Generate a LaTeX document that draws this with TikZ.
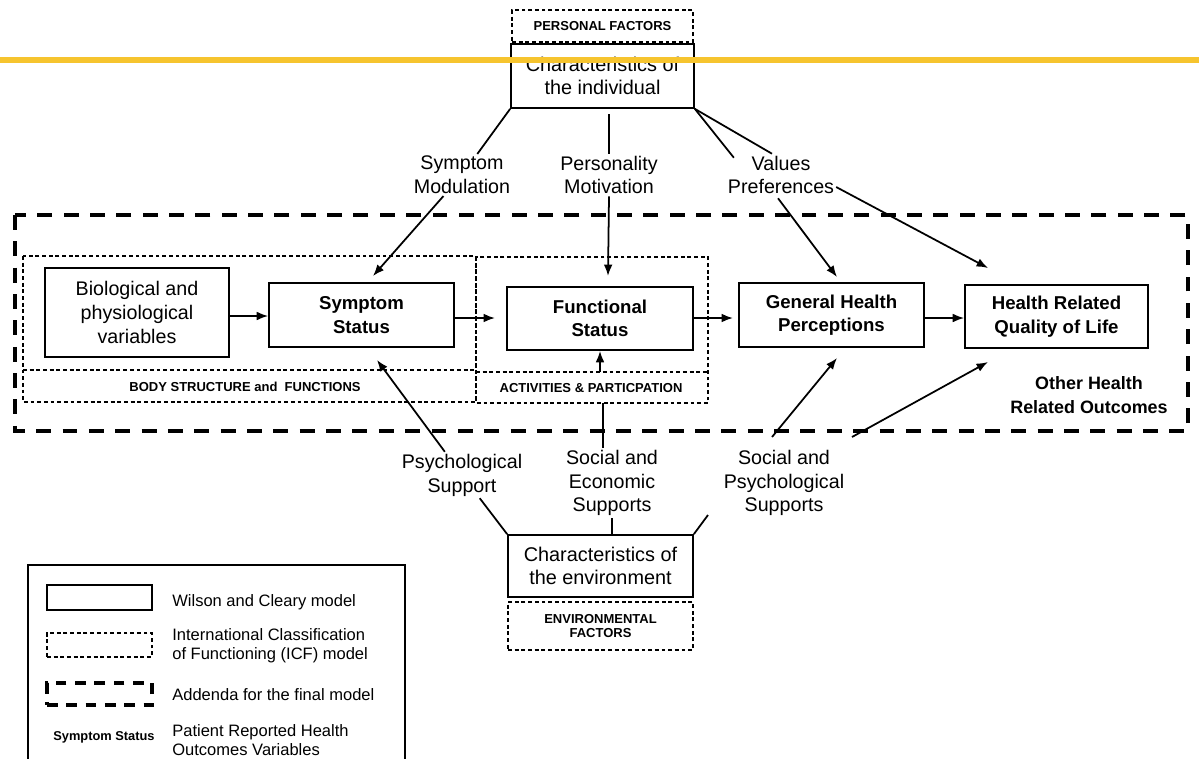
\documentclass[tikz,border=0pt]{standalone}
\usepackage{fontspec}
\setmainfont{Liberation Sans}
\usetikzlibrary{arrows.meta,calc,positioning}
\definecolor{barcolor}{RGB}{246,196,46}

\begin{document}
\begin{tikzpicture}[x=0.02cm,y=-0.02cm]
\tikzset{
    wc box/.style={
       draw, line width=1pt,
       align=center, inner sep=0pt
    },
    var/.style={font=\fontsize{10.6}{13.3}\selectfont\bfseries},
    lab/.style={
       align=center, inner sep=1pt,
       font=\fontsize{11.2}{13.6}\selectfont
    },
    caps/.style={align=center, font=\fontsize{7.4}{8.2}\selectfont\bfseries},
    icf line/.style={line width=1pt, dash pattern=on 2.2pt off 1.6pt},
    addenda line/.style={line width=2.8pt, dash pattern=on 8.5pt off 6.5pt},
    link/.style={line width=1pt},
    arr/.style={line width=1pt, -{Latex[length=6.5pt,width=5pt]}}
}
\useasboundingbox (0,0) rectangle (1199,758);
%
% addenda frame and ICF frames
\draw[addenda line] (15,215) rectangle (1188,431);
\draw[icf line] (23,256) rectangle (476,402);
\draw[icf line] (23,370) -- (476,370);
\draw[icf line] (476,257) rectangle (708,403);
\draw[icf line] (476,372) -- (708,372);
\node[caps] (bodylab) at (245,387) {BODY STRUCTURE and\ \ FUNCTIONS};
\node[caps] (actlab) at (591,388) {ACTIVITIES \& PARTICPATION};
\node[font=\fontsize{10.2}{13.6}\selectfont\bfseries, align=center] (other) at (1089,395) {Other Health\\Related Outcomes};

% personal factors
\node[wc box, icf line, minimum width=3.62cm, minimum height=0.64cm, caps] (pf) at (602.5,26) {PERSONAL FACTORS};
\node[wc box, minimum width=3.66cm, minimum height=1.28cm, font=\fontsize{11.3}{12.8}\selectfont] (indiv) at (602.5,76) {Characteristics of\\the individual};

% Wilson and Cleary chain
\node[wc box, minimum width=3.68cm, minimum height=1.78cm, font=\fontsize{11.2}{13.4}\selectfont] (bio) at (137,312.5) {Biological and\\physiological\\variables};
\node[wc box, var, minimum width=3.7cm, minimum height=1.28cm] (sympt) at (361.5,315) {Symptom\\Status};
\node[wc box, var, minimum width=3.72cm, minimum height=1.26cm] (func) at (600,318.5) {Functional\\Status};
\node[wc box, var, minimum width=3.7cm, minimum height=1.28cm] (gen) at (831.5,315) {General Health\\Perceptions};
\node[wc box, var, minimum width=3.66cm, minimum height=1.26cm] (hrq) at (1056.5,316.5) {Health Related\\Quality of Life};

\draw[arr] (bio.east |- 0,316) -- (sympt.west |- 0,316);
\draw[arr] (sympt.east |- 0,318) -- (495,318);
\draw[arr] (func.east |- 0,318) -- (733,318);
\draw[arr] (gen.east |- 0,318) -- (hrq.west |- 0,318);

% individual factors
\node[lab] (symmod) at (462,175) {Symptom\\Modulation};
\node[lab] (persmot) at (609,175) {Personality\\Motivation};
\node[lab] (valpref) at (781,175) {Values\\Preferences};
\coordinate (tipss) at (373,276);
\coordinate (tipfs) at (608,276);
\coordinate (tipgh) at (837,277);
\coordinate (tiphq) at (988,268);

\draw[link] (indiv.south west) -- (symmod);
\draw[arr] (symmod) -- (tipss);
\draw[link] (persmot.north) -- ([yshift=-3pt]persmot.north |- indiv.south);
\draw[arr] (persmot.south) -- (tipfs);
\draw[link] (indiv.south east) -- ($(valpref.north west)+(8,4)$);
\draw[link] (indiv.south east) -- ($(valpref.north)+(-9,0)$);
\draw[arr] ($(valpref.south)+(-3,2)$) -- (tipgh);
\draw[arr] ($(valpref.east)+(0,12)$) -- (tiphq);

% environmental factors
\node[wc box, minimum width=3.7cm, minimum height=1.24cm, font=\fontsize{11.3}{12.8}\selectfont] (env) at (600.5,566) {Characteristics of\\the environment};
\node[wc box, icf line, minimum width=3.7cm, minimum height=0.96cm, caps, font=\fontsize{7.4}{8}\selectfont\bfseries] (ef) at (600.5,626) {ENVIRONMENTAL\\FACTORS};
\node[lab] (psysup) at (462,475) {Psychological\\Support};
\node[lab] (socecon) at (612,483) {Social and\\Economic\\Supports};
\node[lab] (socpsy) at (784,483) {Social and\\Psychological\\Supports};
\coordinate (tipss2) at (377,360);
\coordinate (actbot) at (603,403);
\coordinate (actdiv) at (600,372);
\coordinate (sptick) at (708,515);
\coordinate (spa) at (772,437);
\coordinate (spb) at (852,437);
\coordinate (tipgh2) at (837,358);
\coordinate (tiphq2) at (988,362);

\draw[link] (env.north west) -- (psysup);
\draw[arr] (psysup) -- (tipss2);
\draw[link] (socecon.south) -- (socecon.south |- env.north);
\draw[link] (socecon.north -| actbot) -- (actbot);
\draw[arr] (actdiv) -- (actdiv |- func.south);
\draw[link] (env.north east) -- (sptick);
\draw[arr] (spa) -- (tipgh2);
\draw[arr] (spb) -- (tiphq2);

% legend
\draw[link] (28,760) |- (405,565) -- (405,760);
\node[wc box, minimum width=2.1cm, minimum height=0.5cm] (lgwc) at (99.5,597.5) {};
\node[wc box, icf line, minimum width=2.1cm, minimum height=0.48cm] (lgicf) at (99.5,645) {};
\node[wc box, line width=2.4pt, dash pattern=on 6pt off 5pt, minimum width=2.1cm, minimum height=0.44cm] (lgadd) at (99.5,694) {};
\node[font=\fontsize{7.3}{8}\selectfont\bfseries] (lgss) at (104,737) {Symptom Status};
\tikzset{lgtext/.style={anchor=west, align=left, inner sep=0pt, font=\fontsize{9.4}{10.8}\selectfont}}
\node[lgtext] (lgwct) at (172,602) {Wilson and Cleary model};
\node[lgtext] (lgicft) at (172,646) {International Classification\\of Functioning (ICF) model};
\node[lgtext] (lgaddt) at (172,695) {Addenda for the final model};
\node[lgtext] (lgsst) at (172,740) {Patient Reported Health\\Outcomes Variables};

% highlight bar
\draw[barcolor, line width=3.4pt] (0,60) -- (1199,60);
\end{tikzpicture}
\end{document}
